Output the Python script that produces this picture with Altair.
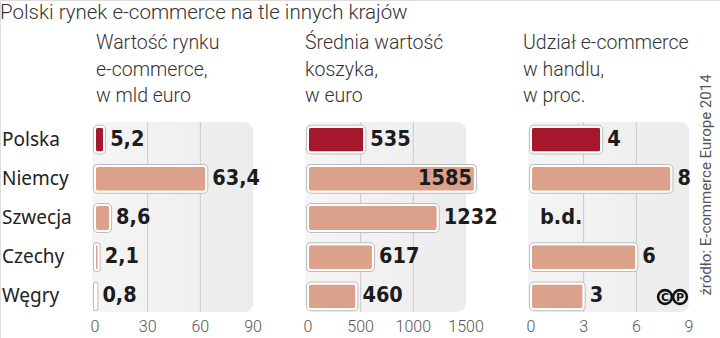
import altair as alt
import pandas as pd

# ---- data ----
countries = ["Polska", "Niemcy", "Szwecja", "Czechy", "Węgry"]
market_value = [5.2, 63.4, 8.6, 2.1, 0.8]          # mld euro
basket_value = [535, 1585, 1232, 617, 460]         # euro
share_value = [4, 8, None, 6, 3]                   # %
ticks_market = [0, 30, 60, 90]
ticks_basket = [0, 500, 1000, 1500]
ticks_share = [0, 3, 6, 9]
titles = [
    ["Wartość rynku", "e-commerce,", "w mld euro"],
    ["Średnia wartość", "koszyka,", "w euro"],
    ["Udział e-commerce", "w handlu,", "w proc."],
]
main_title = "Polski rynek e-commerce na tle innych krajów"
source = "źródło: E-commerce Europe 2014"
cc_letters = ["C", "P"]

# ---- style ----
RED = "#a5182b"
SALMON = "#dca18b"
LABEL_FONT = "DejaVu Sans Condensed"
TEXT_FONT = "Roboto"
TOP, BOTTOM = 122, 312

panels = [
    dict(vals=market_value, ticks=ticks_market, rng=[95, 253], title=titles[0], tx=96),
    dict(vals=basket_value, ticks=ticks_basket, rng=[308, 466], title=titles[1], tx=305),
    dict(vals=share_value, ticks=ticks_share, rng=[531, 689], title=titles[2], tx=523),
]

yscale = alt.Scale(domain=countries, range=[122, 314], paddingInner=0.34, paddingOuter=0.12)
Y = alt.Y("country:N", scale=yscale, axis=None)


def fmt(v):
    if v is None:
        return "b.d."
    if float(v).is_integer():
        return str(int(v))
    return ("%.1f" % v).replace(".", ",")


one = pd.DataFrame({"k": [0]})
layers = []

for p in panels:
    xs = alt.Scale(domain=[p["ticks"][0], p["ticks"][-1]], range=p["rng"], clamp=False, nice=False, zero=True)
    df = pd.DataFrame({
        "country": countries,
        "v": p["vals"],
        "label": [fmt(v) for v in p["vals"]],
        "fill": [RED if c == "Polska" else SALMON for c in countries],
    })
    df["inside"] = df["v"].apply(lambda v: v is not None and pd.notna(v) and v > p["ticks"][-1] * 0.95)
    df["missing"] = df["v"].isna()
    bars = df[~df["missing"]]
    tdf = pd.DataFrame({"t": p["ticks"]})
    gdf = pd.DataFrame({"t": p["ticks"][1:-1]})
    bg = pd.DataFrame({"a": [p["ticks"][0]], "b": [p["ticks"][-1]]})

    layers.append(
        alt.Chart(bg).mark_rect(cornerRadius=9, xOffset=-3,
            fill=alt.Gradient(gradient="linear", x1=0, x2=1, y1=0, y2=0,
                              stops=[alt.GradientStop(color="#f5f5f5", offset=0),
                                     alt.GradientStop(color="#ececec", offset=1)]))
        .encode(x=alt.X("a:Q", scale=xs, axis=None), x2="b:Q",
                y=alt.value(TOP), y2=alt.value(BOTTOM))
    )
    layers.append(
        alt.Chart(gdf).mark_rule(color="#c9c9c9", strokeWidth=1)
        .encode(x=alt.X("t:Q", scale=xs, axis=None), y=alt.value(TOP), y2=alt.value(BOTTOM))
    )
    layers.append(
        alt.Chart(tdf).mark_text(font=TEXT_FONT, fontWeight=300, fontSize=16, color="#555",
                                 baseline="middle", align="center")
        .encode(x=alt.X("t:Q", scale=xs, axis=None), y=alt.value(327), text="t:N")
    )
    layers.append(
        alt.Chart(bars).mark_bar(cornerRadius=3, stroke="#bdbdbd", strokeWidth=4, fill="#bdbdbd")
        .encode(x=alt.X("v:Q", scale=xs, axis=None), y=Y)
    )
    layers.append(
        alt.Chart(bars).mark_bar(cornerRadius=3, stroke="white", strokeWidth=2)
        .encode(x=alt.X("v:Q", scale=xs, axis=None), y=Y, fill=alt.Fill("fill:N", scale=None))
    )
    layers.append(
        alt.Chart(df[~df["inside"] & ~df["missing"]]).mark_text(
            font=LABEL_FONT, fontWeight="bold", fontSize=21.5, color="#1c1c1c",
            align="left", baseline="middle", dx=6)
        .encode(x=alt.X("v:Q", scale=xs, axis=None), y=Y, text="label:N")
    )
    if df["inside"].any():
        layers.append(
            alt.Chart(df[df["inside"]]).mark_text(
                font=LABEL_FONT, fontWeight="bold", fontSize=21.5, color="#1c1c1c",
                align="right", baseline="middle", dx=-3)
            .encode(x=alt.X("v:Q", scale=xs, axis=None), y=Y, text="label:N")
        )
    if df["missing"].any():
        md = df[df["missing"]].copy()
        md["z"] = 0
        layers.append(
            alt.Chart(md).mark_text(
                font=LABEL_FONT, fontWeight="bold", fontSize=21.5, color="#1c1c1c",
                align="left", baseline="middle", dx=9)
            .encode(x=alt.X("z:Q", scale=xs, axis=None), y=Y, text="label:N")
        )
    layers.append(
        alt.Chart(one).mark_text(font=TEXT_FONT, fontWeight=300, fontSize=19.5, color="#333",
                                 align="left", baseline="alphabetic", lineHeight=26.5)
        .encode(x=alt.value(p["tx"]), y=alt.value(49), text=alt.value(p["title"]))
    )

# country labels
cdf = pd.DataFrame({"country": countries})
layers.append(
    alt.Chart(cdf).mark_text(font="Noto Sans", fontSize=19, color="#222", align="left", baseline="middle")
    .encode(x=alt.value(2), y=Y, text="country:N")
)
# main title
layers.append(
    alt.Chart(one).mark_text(font=TEXT_FONT, fontWeight=300, fontSize=20.5, color="#333",
                             align="left", baseline="alphabetic")
    .encode(x=alt.value(0), y=alt.value(19), text=alt.value(main_title))
)
# source
layers.append(
    alt.Chart(one).mark_text(font=TEXT_FONT, fontSize=15, color="#555", angle=270,
                             align="center", baseline="middle")
    .encode(x=alt.value(706), y=alt.value(185), text=alt.value(source))
)
# cc icon (two circled letters)
ccdf = pd.DataFrame({"l": cc_letters, "i": [0, 1]})
layers.append(
    alt.Chart(ccdf).mark_point(shape="circle", size=190, strokeWidth=2.6, color="#111", filled=False, opacity=1)
    .encode(x=alt.X("i:Q", scale=alt.Scale(domain=[0, 1], range=[665, 680]), axis=None),
            y=alt.value(297))
)
layers.append(
    alt.Chart(ccdf).mark_text(font="DejaVu Sans", fontWeight="bold", fontSize=11, color="#111",
                              align="center", baseline="middle")
    .encode(x=alt.X("i:Q", scale=alt.Scale(domain=[0, 1], range=[665, 680]), axis=None),
            y=alt.value(297.5), text="l:N")
)

chart = (
    alt.layer(*layers)
    .resolve_scale(x="independent")
    .properties(width=720, height=338, autosize=alt.AutoSizeParams(type="none"), padding=0)
    .configure_view(stroke=None)
    .configure(background="white")
)

chart.save("out.html", embed_options={"renderer": "svg", "actions": False})
